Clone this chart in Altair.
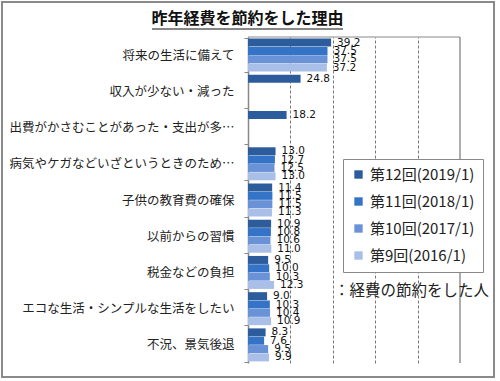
import altair as alt
import pandas as pd

categories = [
    "将来の生活に備えて",
    "収入が少ない・減った",
    "出費がかさむことがあった・支出が多…",
    "病気やケガなどいざというときのため…",
    "子供の教育費の確保",
    "以前からの習慣",
    "税金などの負担",
    "エコな生活・シンプルな生活をしたい",
    "不況、景気後退",
]
years = ["第12回(2019/1)", "第11回(2018/1)", "第10回(2017/1)", "第9回(2016/1)"]
v2019 = [39.2, 24.8, 18.2, 13.0, 11.4, 10.9, 9.5, 9.0, 8.3]
v2018 = [37.5, None, None, 12.7, 11.5, 10.8, 10.0, 10.3, 7.6]
v2017 = [37.5, None, None, 12.5, 11.5, 10.6, 10.3, 10.4, 9.5]
v2016 = [37.2, None, None, 13.0, 11.3, 11.0, 12.3, 10.9, 9.9]
colors = ["#2D5C9C", "#3473C6", "#6A93D7", "#A9BFE7"]
title_text = "昨年経費を節約をした理由"
note_text = "：経費の節約をした人"

rows = []
for yr, vals in zip(years, [v2019, v2018, v2017, v2016]):
    for c, v in zip(categories, vals):
        if v is not None:
            rows.append({"cat": c, "year": yr, "value": v, "label": f"{v:.1f}"})
df = pd.DataFrame(rows)

JP = "Noto Sans CJK JP"
W, H = 212, 326

x_scale = alt.Scale(domain=[0, 100], nice=False)
y_scale = alt.Scale(domain=categories, paddingInner=0.08, paddingOuter=0.04)
y_enc = alt.Y(
    "cat:N",
    sort=categories,
    scale=y_scale,
    axis=alt.Axis(
        title=None,
        labelFont=JP,
        labelFontSize=12.5,
        labelColor="#222",
        labelLimit=260,
        labelPadding=10,
        tickBand="extent",
        tickSize=4,
        tickColor="#888",
        domainColor="#888",
        domainWidth=1.5,
        grid=False,
    ),
)
yoff = alt.YOffset("year:N", scale=alt.Scale(domain=years, paddingInner=0, paddingOuter=0))

base = alt.Chart(df)

bars = base.mark_bar(size=8).encode(
    x=alt.X(
        "value:Q",
        scale=x_scale,
        axis=alt.Axis(
            title=None,
            labels=False,
            ticks=False,
            domain=False,
            values=[20, 40, 60, 80],
            grid=True,
            gridDash=[3, 2],
            gridColor="#777",
            gridWidth=1,
        ),
    ),
    y=y_enc,
    yOffset=yoff,
    color=alt.Color(
        "year:N",
        scale=alt.Scale(domain=years, range=colors),
        legend=alt.Legend(
            title=None,
            orient="none",
            legendX=95,
            legendY=122,
            direction="vertical",
            symbolType="square",
            symbolSize=70,
            symbolStrokeWidth=0,
            labelFont=JP,
            labelFontSize=15,
            labelColor="#222",
            labelOffset=4,
            rowPadding=11,
            padding=8,
            strokeColor="#888",
            fillColor="white",
            cornerRadius=0,
        ),
    ),
)

labels = base.mark_text(
    align="left", baseline="middle", dx=6, font="DejaVu Sans", fontSize=10.5, color="#111"
).encode(
    x=alt.X("value:Q", scale=x_scale),
    y=alt.Y("cat:N", sort=categories, scale=y_scale),
    yOffset=yoff,
    text="label:N",
)

right_rule = alt.Chart(pd.DataFrame({"v": [100]})).mark_rule(color="#777", strokeWidth=1.2).encode(
    x=alt.X("v:Q", scale=x_scale)
)
top_rule = alt.Chart(pd.DataFrame({"v": [0]})).mark_rule(color="#888", strokeWidth=1).encode(
    x=alt.value(0), x2=alt.value(W), y=alt.value(0)
)

note = alt.Chart(pd.DataFrame({"t": [note_text]})).mark_text(
    align="left", baseline="middle", font=JP, fontSize=15.5, color="#222"
).encode(text="t:N", x=alt.value(86), y=alt.value(254))

title = alt.Chart(pd.DataFrame({"t": [title_text]})).mark_text(
    align="center", baseline="middle", font=JP, fontSize=16, fontWeight="bold", color="#111"
).encode(text="t:N", x=alt.value(-0.5), y=alt.value(-18))

underline = alt.Chart(pd.DataFrame({"v": [0]})).mark_rule(color="#111", strokeWidth=1.2).encode(
    x=alt.value(-96), x2=alt.value(95), y=alt.value(-8)
)

frame = alt.Chart(pd.DataFrame({"v": [0]})).mark_rect(
    fill=None, stroke="#8a8a8a", strokeWidth=2
).encode(
    x=alt.value(-246), x2=alt.value(246), y=alt.value(-35), y2=alt.value(340)
)

chart = alt.layer(frame, bars, labels, right_rule, top_rule, note, title, underline).properties(
    width=W,
    height=H,
    padding={"left": 248, "top": 37, "right": 40, "bottom": 18},
    autosize=alt.AutoSizeParams(type="none"),
    background="white",
).configure_view(stroke=None)

chart.save("out.html", embed_options={"renderer": "svg", "actions": False})
